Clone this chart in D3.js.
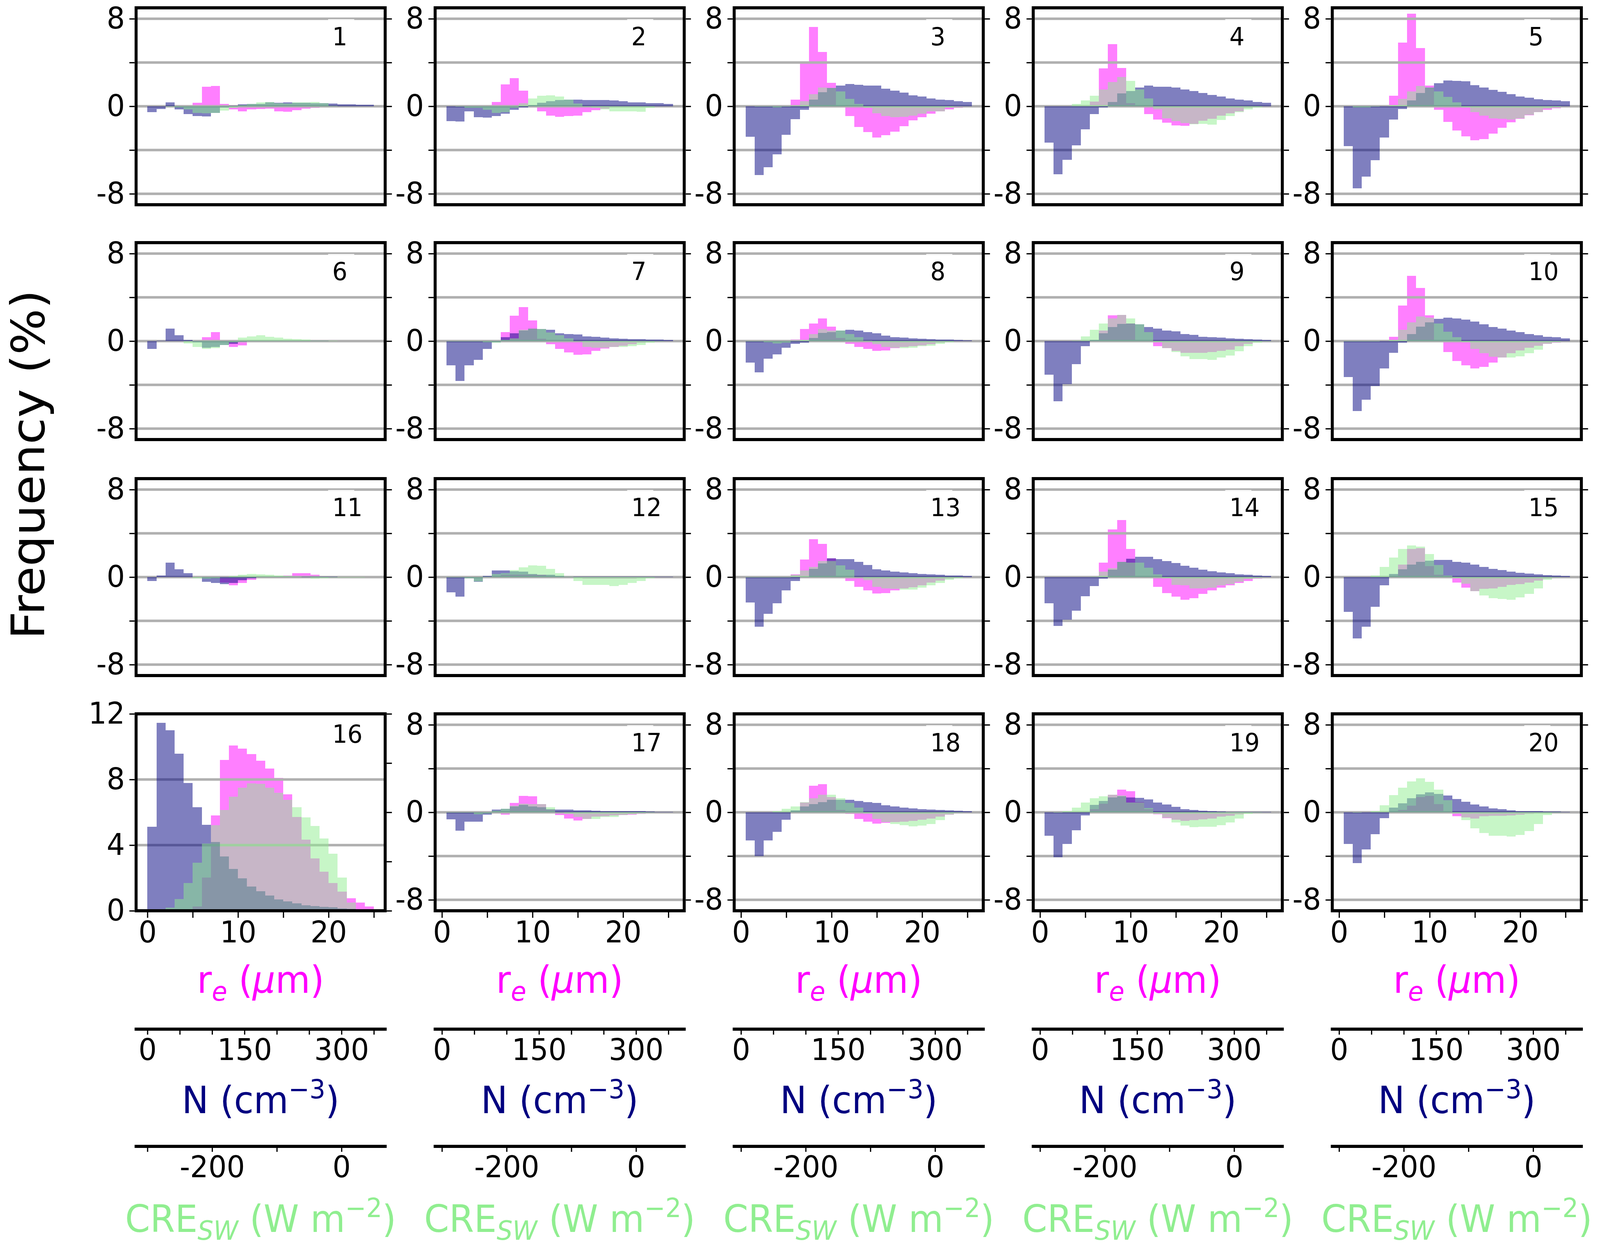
<!DOCTYPE html>
<html>
<head>
<meta charset="utf-8">
<script src="https://cdn.jsdelivr.net/npm/d3@7"></script>
<style>
  html, body { margin: 0; padding: 0; background: #fff; overflow: hidden; }
  svg { display: block; width: 100vw; height: 100vh; }
  text { font-family: "DejaVu Sans", sans-serif; }
</style>
</head>
<body>
<svg id="chart" viewBox="0 0 4291 3189" preserveAspectRatio="none"></svg>
<script>
// frequency (%) per bin, 25 bins; panels 1-15 and 17-20 are differences, 16 is the base distribution
const re01 = [0,0,0,0,0,0.31,1.79,1.84,0.23,-0.3,-0.45,-0.29,-0.26,-0.22,-0.45,-0.51,-0.35,-0.23,-0.15,-0.05,0,0,0,0,0];
const n01 = [-0.55,-0.26,0.36,-0.29,-0.73,-0.9,-0.93,-0.6,-0.1,0.05,0.19,0.2,0.2,0.36,0.32,0.35,0.33,0.32,0.3,0.28,0.26,0.19,0.18,0.15,0.14];
const cre01 = [0,0,-0.03,-0.1,-0.28,-0.6,-0.65,-0.6,-0.38,-0.15,0.1,0.2,0.35,0.4,0.3,0.25,0.35,0.35,0.38,0.3,0.05,0,0,0,0];

const re02 = [0,0,0,0,0,0.41,1.99,2.56,1.44,0.1,-0.46,-0.85,-0.98,-0.89,-0.85,-0.54,-0.36,-0.2,-0.1,-0.05,0,0,0,0,0];
const n02 = [-1.35,-1.41,-0.46,-0.99,-1.05,-0.91,-0.68,-0.33,-0.09,0.1,0.32,0.47,0.56,0.62,0.62,0.57,0.58,0.57,0.52,0.47,0.36,0.35,0.28,0.27,0.22];
const cre02 = [0,-0.05,-0.15,-0.15,-0.33,-0.62,-0.52,-0.15,0.3,0.72,0.96,1.01,0.91,0.62,0.25,-0.05,-0.15,-0.3,-0.46,-0.46,-0.46,-0.49,-0.15,0,0];

const re03 = [0,0,0,0,0,0.59,3.93,7.26,4.98,2.16,0.1,-0.89,-1.88,-2.37,-2.84,-2.65,-2.31,-1.81,-1.3,-1.01,-0.68,-0.47,-0.27,-0.15,-0.05];
const n03 = [-2.8,-6.28,-5.58,-4.38,-2.59,-1.17,-0.33,0.62,1.27,1.68,1.88,2.05,1.95,1.91,1.88,1.62,1.44,1.26,1.0,0.88,0.72,0.6,0.56,0.48,0.4];
const cre03 = [0,-0.03,-0.05,-0.1,-0.05,0.05,0.47,1.09,1.7,1.68,1.36,0.68,0.22,-0.15,-0.64,-0.91,-1.01,-0.98,-0.85,-0.68,-0.47,-0.47,-0.1,0,0];

const re04 = [0,0,0,0,0,0.44,3.46,5.68,3.49,0.3,0.05,-0.73,-1.2,-1.51,-1.75,-1.79,-1.59,-1.32,-1.14,-0.86,-0.64,-0.46,-0.15,-0.05,0];
const n04 = [-3.33,-6.23,-4.88,-3.56,-2.09,-0.73,-0.09,0.41,1.17,1.4,1.7,1.91,1.79,1.79,1.7,1.52,1.38,1.23,1.05,0.9,0.72,0.62,0.52,0.41,0.32];
const cre04 = [0,0,0,0.22,0.53,0.96,1.52,2.23,2.69,2.32,1.55,0.72,-0.3,-1.1,-1.35,-1.55,-1.63,-1.6,-1.69,-1.26,-0.91,-0.54,-0.27,-0.1,0];

const re05 = [0,0,0,0,0,0.96,5.83,8.47,5.32,1.88,-0.33,-1.44,-2.21,-2.74,-3.11,-2.99,-2.49,-1.95,-1.48,-1.14,-0.83,-0.54,-0.33,-0.17,-0.05];
const n05 = [-3.63,-7.49,-6.42,-4.94,-2.84,-1.23,-0.25,0.53,1.21,1.7,2.1,2.35,2.31,2.27,1.93,1.7,1.51,1.31,1.12,0.9,0.8,0.65,0.57,0.53,0.48];
const cre05 = [0,-0.1,-0.1,-0.05,0,0.1,0.69,1.37,1.85,1.7,1.37,0.84,0.37,-0.1,-0.52,-0.86,-1.1,-1.14,-1.2,-1.11,-0.8,-0.52,-0.2,-0.1,0];

const re06 = [0,0,0,0,0,0,0.36,0.83,0,-0.55,-0.39,0,0,0,0,0,0,0,0,0,0,0,0,0,0];
const n06 = [-0.73,0.05,1.15,0.52,0.1,-0.1,-0.6,-0.55,-0.36,-0.26,-0.05,0.03,0.03,0.02,0.02,0.02,0.02,0.02,0.02,0.02,0.01,0.01,0.01,0.01,0.01];
const cre06 = [0,0,0,0,-0.21,-0.55,-0.73,-0.65,-0.34,-0.1,0.31,0.44,0.55,0.39,0.31,0.23,0.18,0.13,0.05,0.05,0.03,0,0,0,0];

const re07 = [0,0,0,0,0,0,0.83,2.32,3.1,1.88,0.2,-0.29,-0.73,-1.04,-1.25,-1.2,-0.91,-0.68,-0.55,-0.42,-0.29,-0.16,-0.05,0,0];
const n07 = [-2.21,-3.65,-2.21,-1.72,-0.73,-0.1,0.36,0.7,0.96,1.15,1.09,1.02,0.7,0.65,0.6,0.44,0.39,0.31,0.26,0.23,0.18,0.18,0.13,0.13,0.1];
const cre07 = [-0.05,-0.05,-0.05,-0.05,-0.1,-0.15,0.1,0.26,1.04,1.15,1.09,0.78,0.52,0.26,0,-0.55,-0.6,-0.6,-0.55,-0.52,-0.47,-0.34,-0.16,-0.05,0];

const re08 = [0,0,0,0,0,0.16,1.09,1.61,2.06,1.33,0.3,-0.26,-0.55,-0.73,-0.91,-0.86,-0.65,-0.55,-0.47,-0.39,-0.29,-0.16,-0.08,0,0];
const n08 = [-1.95,-2.86,-1.59,-1.2,-0.6,-0.26,-0.16,0.3,0.76,0.83,0.96,1.04,0.96,0.83,0.7,0.49,0.36,0.31,0.26,0.23,0.18,0.16,0.13,0.1,0.08];
const cre08 = [-0.05,-0.05,-0.1,-0.2,-0.15,0.05,0.1,0.63,1.09,0.96,0.96,0.63,0.36,0.05,-0.3,-0.55,-0.6,-0.65,-0.6,-0.47,-0.42,-0.26,-0.1,0,0];

const re09 = [0,0,0,0,0,0,0.96,2.34,2.4,1.6,0,0,-0.47,-0.65,-0.91,-1.07,-1.07,-1.07,-0.99,-0.91,-0.78,-0.47,-0.26,-0.1,0];
const n09 = [-3.07,-5.49,-3.93,-2.11,-0.47,0.1,0.7,1.3,1.56,1.61,1.54,1.3,1.15,0.96,0.89,0.65,0.57,0.39,0.36,0.31,0.26,0.23,0.18,0.13,0.1];
const cre09 = [0,0,0,0.05,0.44,1.02,1.61,2.08,2.4,2.06,1.54,0.83,-0.1,-0.65,-0.99,-1.38,-1.64,-1.64,-1.72,-1.51,-1.33,-0.94,-0.47,-0.16,-0.05];

const re10 = [0,0,0,0,0,0.39,3.26,5.96,4.87,2.34,0.05,-0.99,-1.82,-2.21,-2.5,-2.37,-1.95,-1.51,-1.12,-0.86,-0.6,-0.42,-0.26,-0.16,-0.05];
const n10 = [-3.28,-6.38,-5.36,-4.11,-2.5,-1.07,-0.16,0.65,1.33,1.72,2.03,2.16,2.08,1.98,1.8,1.54,1.3,1.15,0.96,0.81,0.63,0.52,0.39,0.34,0.26];
const cre10 = [-0.03,-0.03,-0.03,-0.03,0,0.1,1.04,1.72,2.26,2.13,1.61,0.86,0.34,-0.1,-0.73,-1.12,-1.43,-1.51,-1.51,-1.38,-1.12,-0.78,-0.26,-0.1,0];

const re11 = [0,0,0,0,0,0,0.1,0,-0.5,-0.76,-0.55,-0.24,-0.1,0,0,0.16,0.37,0.37,0.21,0.05,0,0,0,0,0];
const n11 = [-0.37,0.13,1.31,0.73,0.37,0,-0.44,-0.55,-0.63,-0.55,-0.3,-0.1,0.02,0.02,0.02,0.02,0.02,0.02,0.02,0.02,0.02,0.01,0.01,0.01,0.01];
const cre11 = [0,0,0,0,0,-0.1,-0.15,-0.1,0,0.1,0.21,0.29,0.24,0.21,0.16,0.1,0.05,0,-0.15,-0.1,-0.05,-0.05,-0.05,-0.05,0];

const re12 = [0,0,0,0,0,0,0.2,0.2,0.2,0.2,0.2,0.1,0,0,-0.05,-0.15,-0.15,-0.15,-0.15,-0.15,-0.15,-0.05,0,0,0];
const n12 = [-1.41,-1.8,-0.1,-0.42,0.1,0.6,0.6,0.55,0.5,0.3,0.2,0.2,0.1,0.05,0.03,0.03,0.03,0.03,0.03,0.03,0.03,0.03,0.03,0.03,0.03];
const cre12 = [-0.05,-0.05,-0.1,-0.4,0.05,0.29,0.34,0.65,0.89,1.07,1.05,0.76,0.37,0.05,-0.37,-0.71,-0.71,-0.71,-0.81,-0.71,-0.55,-0.37,-0.1,0,0];

const re13 = [0,0,0,0,0,0.24,1.59,3.48,3.03,1.73,0.1,-0.37,-0.89,-1.23,-1.49,-1.46,-1.2,-1.02,-0.94,-0.76,-0.5,-0.31,-0.16,-0.05,0];
const n13 = [-2.33,-4.55,-3.37,-2.38,-1.23,-0.37,0.05,0.76,1.25,1.73,1.65,1.65,1.41,1.12,0.73,0.6,0.5,0.42,0.37,0.29,0.24,0.21,0.16,0.13,0.1];
const cre13 = [-0.05,-0.05,-0.05,-0.05,-0.05,0.21,0.6,0.94,1.46,1.46,1.07,0.68,0,-0.3,-0.89,-1.02,-1.07,-1.15,-1.15,-0.97,-0.76,-0.55,-0.24,-0.1,0];

const re14 = [0,0,0,0,0,0,1.33,4.34,5.2,2.56,0,-0.1,-0.89,-1.46,-1.8,-2.07,-1.93,-1.54,-1.2,-0.97,-0.76,-0.55,-0.37,-0.16,-0.05];
const n14 = [-2.38,-4.47,-3.9,-3.06,-1.75,-0.81,-0.16,0.68,1.39,1.67,1.86,1.86,1.65,1.46,1.28,1.02,0.86,0.68,0.55,0.42,0.34,0.24,0.21,0.13,0.1];
const cre14 = [0,0,0,0,0,0.05,0.5,0.81,1.39,1.33,1.33,0.86,0.24,-0.1,-0.71,-0.76,-1.02,-1.02,-0.97,-0.76,-0.63,-0.42,-0.18,-0.08,0];

const re15 = [0,0,0,0,0,0.1,1.15,2.56,2.64,1.0,0.2,-0.05,-0.5,-0.97,-1.28,-1.07,-1.02,-0.89,-0.71,-0.63,-0.5,-0.31,-0.16,-0.05,0];
const n15 = [-3.19,-5.59,-4.55,-2.72,-0.76,0.29,0.73,1.15,1.41,1.49,1.57,1.57,1.41,1.33,1.15,0.94,0.76,0.65,0.5,0.39,0.31,0.24,0.18,0.13,0.1];
const cre15 = [0,0,0,0.16,0.94,1.8,2.56,2.9,2.77,2.12,1.12,0.16,-0.1,-0.6,-1.3,-1.67,-1.93,-1.99,-2.07,-1.86,-1.54,-1.02,-0.24,-0.05,0];

const re16 = [0,0,0,0,0,0.27,2.03,5.82,9.18,10.08,9.88,9.54,9.14,8.67,8.09,7.1,5.71,4.34,3.19,2.37,1.7,1.17,0.77,0.49,0.27];
const n16 = [5.13,11.45,11.01,9.57,7.79,6.31,5.24,4.2,3.31,2.54,1.97,1.47,1.2,0.92,0.7,0.57,0.46,0.34,0.29,0.23,0.21,0.15,0.12,0.06,0.03];
const cre16 = [0.01,0.04,0.19,0.72,1.7,2.93,4.09,5.22,6.14,6.96,7.49,7.77,7.73,7.51,7.19,6.77,6.31,5.69,5.16,4.41,3.47,2.03,0.49,0.05,0];

const re17 = [0,0,0,0,0,0.1,-0.2,0.84,1.51,1.47,0.74,0.2,-0.26,-0.57,-0.74,-0.59,-0.41,-0.34,-0.28,-0.26,-0.22,-0.16,-0.05,0,0];
const n17 = [-0.65,-1.67,-0.87,-0.85,-0.22,0.25,0.33,0.54,0.69,0.52,0.45,0.3,0.25,0.25,0.17,0.17,0.15,0.12,0.11,0.09,0.1,0.09,0.06,0.05,0.04];
const cre17 = [-0.05,-0.05,-0.05,-0.18,-0.1,0.15,0.33,0.6,0.8,0.74,0.74,0.45,0,-0.15,-0.44,-0.61,-0.59,-0.43,-0.44,-0.26,-0.18,-0.1,-0.05,0,0];

const re18 = [0,0,0,0,0,0,0.88,2.42,2.58,1.4,0.2,-0.15,-0.61,-0.84,-1.04,-0.98,-0.9,-0.84,-0.77,-0.69,-0.57,-0.41,-0.22,-0.05,0];
const n18 = [-2.56,-4.0,-2.56,-1.78,-0.69,0.17,0.52,0.76,0.93,1.13,1.15,1.13,1.04,0.93,0.86,0.65,0.52,0.44,0.37,0.29,0.25,0.22,0.18,0.15,0.12];
const cre18 = [0,0,0,0.11,0.33,0.54,0.93,1.29,1.62,1.62,1.29,0.86,0.42,-0.1,-0.6,-0.9,-1.08,-1.17,-1.29,-1.2,-1.08,-0.71,-0.2,-0.05,0];

const re19 = [0,0,0,0,0,0.3,0.8,1.6,2.08,1.94,0.93,0.3,-0.18,-0.53,-0.69,-0.8,-0.71,-0.65,-0.57,-0.41,-0.32,-0.17,-0.08,0,0];
const n19 = [-2.13,-4.12,-2.9,-1.66,-0.29,0.68,1.04,1.35,1.47,1.35,1.31,1.18,0.88,0.72,0.5,0.29,0.22,0.15,0.09,0.06,0.05,0.05,0.04,0.03,0.02];
const cre19 = [0,-0.05,0.11,0.44,0.88,1.28,1.47,1.6,1.55,0.9,0.9,0.39,-0.15,-0.49,-0.92,-1.2,-1.36,-1.33,-1.33,-1.17,-0.93,-0.57,-0.16,-0.05,0];

const re20 = [0,0,0,0,0,0,0.2,0.6,1.4,1.5,0.76,0.1,-0.37,-0.47,-0.57,-0.37,-0.32,-0.32,-0.28,-0.22,-0.16,-0.1,-0.05,0,0];
const n20 = [-2.9,-4.64,-3.39,-2.0,-0.53,0.42,0.82,1.28,1.65,1.83,1.68,1.54,1.22,0.97,0.7,0.52,0.37,0.29,0.17,0.12,0.11,0.09,0.07,0.07,0.05];
const cre20 = [0,-0.03,0,0.1,0.64,1.58,2.26,2.81,3.1,2.79,2.08,1.09,-0.1,-0.71,-1.45,-1.88,-2.13,-2.16,-2.22,-2.06,-1.72,-1.08,-0.26,-0.05,0];

// ticks
const reTicks = [0, 5, 10, 15, 20, 25];
const reLabels = [0, 10, 20];
const nTicks = [0, 50, 100, 150, 200, 250, 300, 350];
const nLabels = [0, 150, 300];
const creTicks = [-300, -200, -100, 0];
const creLabels = [-200, 0];
const diffTicks = [-8, -4, 0, 4, 8];
const diffLabels = [-8, 0, 8];
const baseTicks = [0, 4, 8, 12];
const baseRightTicks = [0, 3, 6, 9, 12];
const baseGrid = [4, 8];

const panels = [
  [re01, n01, cre01], [re02, n02, cre02], [re03, n03, cre03], [re04, n04, cre04], [re05, n05, cre05],
  [re06, n06, cre06], [re07, n07, cre07], [re08, n08, cre08], [re09, n09, cre09], [re10, n10, cre10],
  [re11, n11, cre11], [re12, n12, cre12], [re13, n13, cre13], [re14, n14, cre14], [re15, n15, cre15],
  [re16, n16, cre16], [re17, n17, cre17], [re18, n18, cre18], [re19, n19, cre19], [re20, n20, cre20]
];

const colLeft = [365, 1167, 1969, 2771, 3573];
const rowTop = [20, 621, 1225, 1827];
const W = 668, H = 504;
const tickFont = 77, titleFont = 96;

const svg = d3.select('#chart');
svg.append('rect').attr('width', 4291).attr('height', 3189).attr('fill', '#fff');

function drawBars(g, vals, color, x, y, offset) {
  g.append('g').selectAll('rect').data(vals).join('rect')
    .attr('x', (d, i) => x(i + offset))
    .attr('width', (d, i) => x(i + offset + 1) - x(i + offset))
    .attr('y', d => y(Math.max(0, d)))
    .attr('height', d => Math.abs(y(d) - y(0)))
    .attr('fill', color)
    .attr('fill-opacity', 0.5)
    .attr('shape-rendering', 'crispEdges');
}

function styleAxis(g, size) {
  g.selectAll('.domain').remove();
  g.selectAll('.tick line').attr('stroke', '#000').attr('stroke-width', 3.3);
  g.selectAll('.tick text').attr('font-size', size).attr('font-family', '"DejaVu Sans", sans-serif').attr('fill', '#000');
}

panels.forEach((p, k) => {
  const row = Math.floor(k / 5), col = k % 5;
  const left = colLeft[col], top = rowTop[row];
  const isBase = k === 15;
  const x = d3.scaleLinear().domain(isBase ? [-1.25, 26.25] : [-0.75, 26.75]).range([left, left + W]);
  const y = d3.scaleLinear().domain(isBase ? [0, 12] : [-9, 9]).range([top + H, top]);
  const offset = isBase ? 0 : 0.5;
  const g = svg.append('g');

  drawBars(g, p[0], '#ff00ff', x, y, offset);

  g.append('g').selectAll('line').data(isBase ? baseGrid : diffTicks).join('line')
    .attr('x1', left).attr('x2', left + W)
    .attr('y1', d => y(d)).attr('y2', d => y(d))
    .attr('stroke', '#b0b0b0').attr('stroke-width', 6.5);

  drawBars(g, p[1], '#000080', x, y, offset);
  drawBars(g, p[2], '#90ee90', x, y, offset);

  // thin white edge of the number box where it meets the top grid line
  if (!isBase) {
    g.append('rect').attr('x', left + 515).attr('y', y(8) + 1.2).attr('width', 70).attr('height', 2)
      .attr('fill', '#fff');
  }

  g.append('rect').attr('x', left).attr('y', top).attr('width', W).attr('height', H)
    .attr('fill', 'none').attr('stroke', '#000').attr('stroke-width', 8);

  const leftTicks = isBase ? baseTicks : diffTicks;
  const leftLabels = isBase ? baseTicks : diffLabels;
  const ax = g.append('g').attr('transform', `translate(${left - 4},0)`)
    .call(d3.axisLeft(y).tickValues(leftTicks).tickSize(14).tickPadding(12)
      .tickFormat(d => leftLabels.includes(d) ? String(d) : ''));
  styleAxis(ax, tickFont);

  const ar = g.append('g').attr('transform', `translate(${left + W + 4},0)`)
    .call(d3.axisRight(y).tickValues(isBase ? baseRightTicks : diffTicks).tickSize(14).tickFormat(''));
  styleAxis(ar, tickFont);

  g.append('text').attr('x', left + 526).attr('y', top + (isBase ? 74 : 96))
    .attr('font-size', 64).text(k + 1);

  if (row === 3) {
    const cx = left + W / 2;
    const axb = g.append('g').attr('transform', `translate(0,${top + H + 4})`)
      .call(d3.axisBottom(x).tickValues(reTicks).tickSize(14).tickPadding(8)
        .tickFormat(d => reLabels.includes(d) ? String(d) : ''));
    styleAxis(axb, tickFont);

    const xn = d3.scaleLinear().domain(x.domain().map(v => v * 14)).range(x.range());
    const axn = g.append('g').attr('transform', 'translate(0,2634)')
      .call(d3.axisBottom(xn).tickValues(nTicks).tickSize(14).tickSizeOuter(0).tickPadding(10)
        .tickFormat(d => nLabels.includes(d) ? String(d) : ''));
    styleAxis(axn, tickFont);
    axn.append('line').attr('x1', left - 4).attr('x2', left + W + 4).attr('y1', 0).attr('y2', 0)
      .attr('stroke', '#000').attr('stroke-width', 8);

    const xc = d3.scaleLinear().domain(x.domain().map(v => v * 14 - 300)).range(x.range());
    const axc = g.append('g').attr('transform', 'translate(0,2934)')
      .call(d3.axisBottom(xc).tickValues(creTicks).tickSize(14).tickSizeOuter(0).tickPadding(10)
        .tickFormat(d => creLabels.includes(d) ? String(d) : ''));
    styleAxis(axc, tickFont);
    axc.append('line').attr('x1', left - 4).attr('x2', left + W + 4).attr('y1', 0).attr('y2', 0)
      .attr('stroke', '#000').attr('stroke-width', 8);

    const t1 = g.append('text').attr('x', cx).attr('y', 2541).attr('text-anchor', 'middle')
      .attr('font-size', titleFont).attr('fill', '#ff00ff');
    t1.append('tspan').text('r');
    t1.append('tspan').attr('font-style', 'italic').attr('font-size', titleFont * 0.7).attr('dy', 20).text('e');
    t1.append('tspan').attr('dy', -20).text(' (');
    t1.append('tspan').attr('font-style', 'italic').text('μ');
    t1.append('tspan').text('m)');

    const t2 = g.append('text').attr('x', cx).attr('y', 2849).attr('text-anchor', 'middle')
      .attr('font-size', titleFont).attr('fill', '#000080');
    t2.append('tspan').text('N (cm');
    t2.append('tspan').attr('font-size', titleFont * 0.7).attr('dy', -38).text('−3');
    t2.append('tspan').attr('dy', 38).text(')');

    const t3 = g.append('text').attr('x', cx).attr('y', 3153).attr('text-anchor', 'middle')
      .attr('font-size', titleFont).attr('fill', '#90ee90');
    t3.append('tspan').text('CRE');
    t3.append('tspan').attr('font-style', 'italic').attr('font-size', titleFont * 0.7).attr('dy', 20).text('SW');
    t3.append('tspan').attr('dy', -20).text(' (W m');
    t3.append('tspan').attr('font-size', titleFont * 0.7).attr('dy', -38).text('−2');
    t3.append('tspan').attr('dy', 38).text(')');
  }
});

svg.append('text')
  .attr('transform', 'translate(118,1189) rotate(-90)')
  .attr('text-anchor', 'middle')
  .attr('font-size', 124)
  .text('Frequency (%)');
</script>
</body>
</html>
